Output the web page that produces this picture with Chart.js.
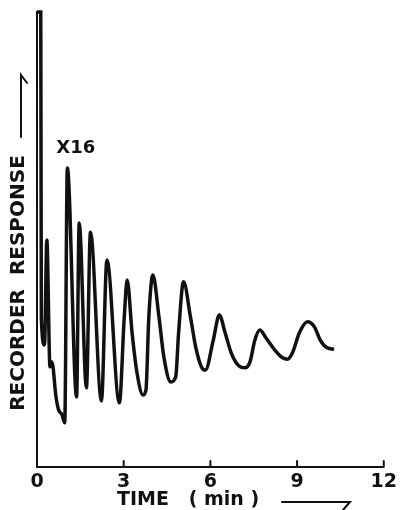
<!DOCTYPE html>
<html>
<head>
<meta charset="utf-8">
<script src="https://cdn.jsdelivr.net/npm/chart.js@4.4.1/dist/chart.umd.min.js"></script>
<style>
  html, body { margin: 0; padding: 0; background: #fff; }
  #wrap { width: 401px; height: 510px; }
</style>
</head>
<body>
<div id="wrap"><canvas id="recorderChart" width="401" height="510"></canvas></div>
<script>
// Recorder trace: time in minutes, response in arbitrary units (100 = top of chart)
const timeMin = [0, 0.13, 0.15, 0.26, 0.34, 0.45, 0.51, 0.55, 0.65, 0.75, 0.86, 0.96,
    1.05, 1.37, 1.46, 1.71, 1.85, 2.23, 2.42, 2.85, 3.02, 3.12, 3.29, 3.46, 3.67,
    3.77, 3.87, 4.01, 4.22, 4.39, 4.63, 4.80, 4.90, 5.07, 5.31, 5.49, 5.69, 5.83,
    6.10, 6.31, 6.51, 6.72, 6.96, 7.20, 7.37, 7.54, 7.71, 7.92, 8.23, 8.50, 8.67,
    8.84, 9.08, 9.36, 9.60, 9.80, 10.04, 10.28];
const response = [100, 100, 32.7, 26.8, 49.9, 22.0, 23.1, 22.2, 15.8, 12.5, 11.6, 9.7,
    65.7, 15.4, 53.6, 17.4, 51.6, 14.5, 45.5, 14.1, 33.0, 41.1, 29.5, 20.7, 15.8,
    16.9, 33.0, 42.2, 33.0, 24.2, 18.7, 19.8, 29.5, 40.7, 33.0, 26.4, 22.0, 21.3,
    27.9, 33.4, 29.5, 25.1, 22.4, 21.8, 23.1, 27.9, 30.1, 28.4, 25.7, 24.0, 23.7,
    25.1, 29.5, 31.9, 30.8, 27.9, 26.2, 25.9];
const xTicks = [0, 3, 6, 9, 12];

const xLabel = 'TIME   ( min )';
const yLabel = 'RECORDER  RESPONSE';
const noteText = 'X16';
const notePos = [1.34, 70];   // where the gain note sits (min, response)

const ink = '#111';
const fontFamily = '"DejaVu Sans", sans-serif';

// draws the hand-lettered bits: inward ticks, axis titles with arrows, gain note
const extras = {
    id: 'extras',
    afterDraw(chart) {
        const { ctx, scales: { x, y } } = chart;
        ctx.save();
        ctx.strokeStyle = ink;
        ctx.fillStyle = ink;
        ctx.lineWidth = 2;
        ctx.lineCap = 'round';

        // small tick marks pointing up into the plot
        xTicks.forEach(v => {
            if (v === 0) return;
            const px = x.getPixelForValue(v);
            ctx.beginPath();
            ctx.moveTo(px, y.bottom);
            ctx.lineTo(px, y.bottom - 6);
            ctx.stroke();
        });

        // gain note over the first peak
        ctx.font = 'bold 18px ' + fontFamily;
        ctx.textAlign = 'center';
        ctx.textBaseline = 'middle';
        ctx.fillText(noteText, x.getPixelForValue(notePos[0]), y.getPixelForValue(notePos[1]));

        // x title and its arrow
        ctx.font = 'bold 19px ' + fontFamily;
        ctx.textAlign = 'left';
        ctx.fillText(xLabel, x.left + 80, 500);
        ctx.beginPath();
        ctx.moveTo(x.left + 245, 502);
        ctx.lineTo(x.left + 313, 502);
        ctx.lineTo(x.left + 306, 510);
        ctx.stroke();

        // y title (rotated) and its arrow
        ctx.save();
        ctx.translate(19, 283);
        ctx.rotate(-Math.PI / 2);
        ctx.font = 'bold 20px ' + fontFamily;
        ctx.textAlign = 'center';
        ctx.fillText(yLabel, 0, 0);
        ctx.restore();
        ctx.beginPath();
        ctx.moveTo(21, 137);
        ctx.lineTo(21, 75);
        ctx.lineTo(27, 83);
        ctx.stroke();

        ctx.restore();
    }
};

const points = timeMin.map((t, i) => ({ x: t, y: response[i] }));

new Chart(document.getElementById('recorderChart'), {
    type: 'line',
    data: {
        datasets: [{
            data: points,
            borderColor: ink,
            borderWidth: 3.5,
            pointRadius: 0,
            cubicInterpolationMode: 'monotone',
            fill: false,
            clip: false
        }]
    },
    options: {
        responsive: false,
        animation: false,
        devicePixelRatio: 1,
        layout: { padding: { top: 12, right: 14, left: 0, bottom: 0 } },
        plugins: {
            legend: { display: false },
            tooltip: { enabled: false }
        },
        scales: {
            x: {
                type: 'linear',
                min: 0,
                max: 12,
                afterBuildTicks: scale => { scale.ticks = xTicks.map(v => ({ value: v })); },
                afterFit: scale => { scale.height = 43; },
                ticks: {
                    color: ink,
                    padding: 4,
                    maxRotation: 0,
                    font: { family: fontFamily, size: 19, weight: 'bold' }
                },
                grid: { drawOnChartArea: false, drawTicks: false },
                border: { display: true, color: ink, width: 2 }
            },
            y: {
                min: 0,
                max: 100,
                afterFit: scale => { scale.width = 37; },
                ticks: { display: false },
                grid: { display: false },
                border: { display: true, color: ink, width: 2 }
            }
        }
    },
    plugins: [extras]
});
</script>
</body>
</html>
